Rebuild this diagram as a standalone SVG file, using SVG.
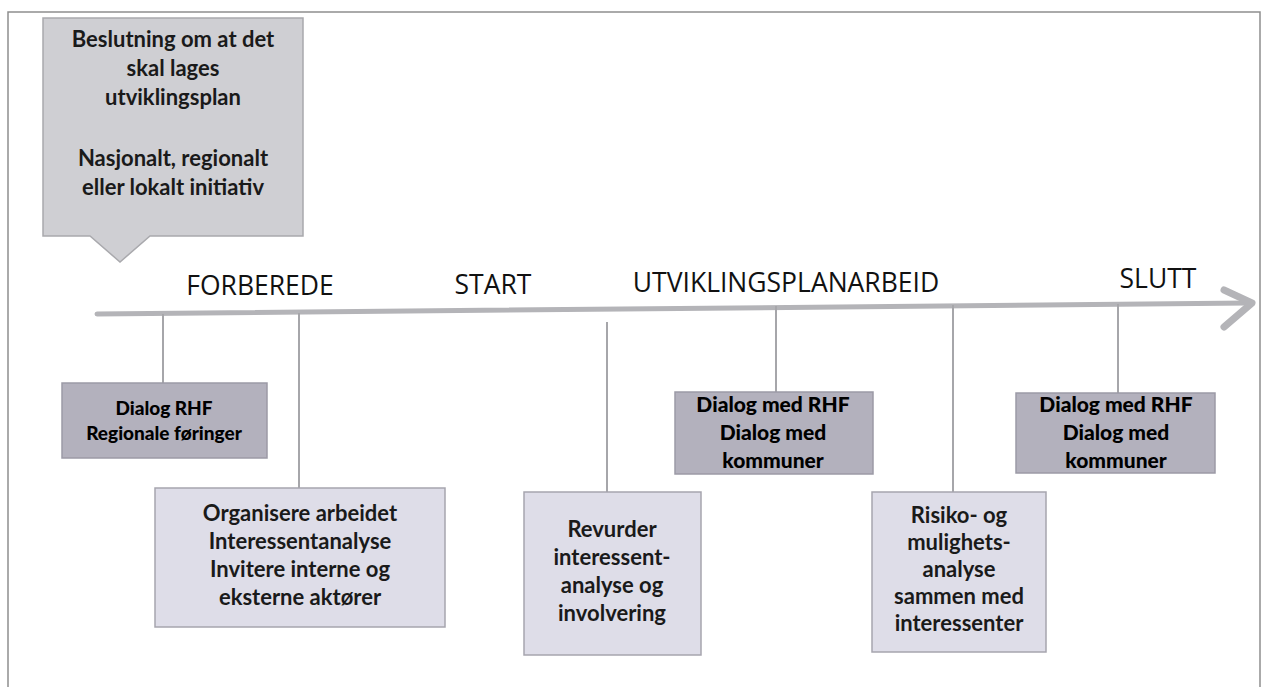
<svg xmlns="http://www.w3.org/2000/svg" width="1262" height="687" viewBox="0 0 1262 687">
<style>
.frame{fill:none;stroke:#8e8e8e;stroke-width:1.5}
.axis{fill:none;stroke:#b4b4b8;stroke-width:5;stroke-linecap:round}
.head{fill:none;stroke:#b4b4b8;stroke-width:7;stroke-linecap:round;stroke-linejoin:round}
.tick{fill:none;stroke:#a6a6aa;stroke-width:2}
.callout{fill:#cfcfd3;stroke:#a9a9ad;stroke-width:1.5}
.dark{fill:#b3b1bd;stroke:#9c9aa6;stroke-width:1.5}
.light{fill:#deddE8;stroke:#a6a5ae;stroke-width:1.5}
.phase{font-family:"Open Sans","Liberation Sans",sans-serif;font-size:26.5px;fill:#111;text-anchor:middle}
.t{font-family:Lato,"Liberation Sans",sans-serif;font-weight:bold;font-size:22px;fill:#1a1a1a;text-anchor:middle}
.td{font-family:Lato,"Liberation Sans",sans-serif;font-weight:900;font-size:21px;fill:#000;text-anchor:middle}
.ts{font-size:19px}
</style>
<rect x="0" y="0" width="1262" height="687" fill="#ffffff"/>
<g id="frame">
<path class="frame" d="M8,687 V12 H1260 V687"/>
</g>
<g id="connectors">
<path class="axis" d="M97,314 L1248,303"/>
<path class="head" d="M1224,290 L1252,303 L1224,327"/>
<path class="tick" d="M163,314 V383"/>
<path class="tick" d="M299,313 V488"/>
<path class="tick" d="M607,322 V492"/>
<path class="tick" d="M776,306 V392"/>
<path class="tick" d="M953,305 V492"/>
<path class="tick" d="M1118,304 V393"/>
</g>
<g id="phases">
<text class="phase" x="260" y="295">FORBEREDE</text>
<text class="phase" x="493" y="294">START</text>
<text class="phase" x="786" y="292">UTVIKLINGSPLANARBEID</text>
<text class="phase" x="1158" y="288">SLUTT</text>
</g>
<g id="callout">
<path class="callout" d="M43,18 H303 V236 H150 L120,262 L90,236 H43 Z"/>
<text class="t" x="173" y="47">Beslutning om at det</text>
<text class="t" x="173" y="76">skal lages</text>
<text class="t" x="173" y="105">utviklingsplan</text>
<text class="t" x="173" y="166">Nasjonalt, regionalt</text>
<text class="t" x="173" y="195">eller lokalt initiativ</text>
</g>
<g id="dialog-rhf">
<rect class="dark" x="62" y="383" width="205" height="75"/>
<text class="td ts" x="164" y="415">Dialog RHF</text>
<text class="td ts" x="164" y="440">Regionale føringer</text>
</g>
<g id="organisere">
<rect class="light" x="155" y="488" width="290" height="139"/>
<text class="t" x="300" y="521">Organisere arbeidet</text>
<text class="t" x="300" y="549">Interessentanalyse</text>
<text class="t" x="300" y="577">Invitere interne og</text>
<text class="t" x="300" y="605">eksterne aktører</text>
</g>
<g id="revurder">
<rect class="light" x="524" y="492" width="177" height="163"/>
<text class="t" x="612" y="537">Revurder</text>
<text class="t" x="612" y="565">interessent-</text>
<text class="t" x="612" y="593">analyse og</text>
<text class="t" x="612" y="621">involvering</text>
</g>
<g id="dialog-2">
<rect class="dark" x="675" y="392" width="198" height="82"/>
<text class="td" x="773" y="412">Dialog med RHF</text>
<text class="td" x="773" y="440">Dialog med</text>
<text class="td" x="773" y="468">kommuner</text>
</g>
<g id="risiko">
<rect class="light" x="872" y="492" width="174" height="160"/>
<text class="t" x="959" y="523">Risiko- og</text>
<text class="t" x="959" y="550">mulighets-</text>
<text class="t" x="959" y="577">analyse</text>
<text class="t" x="959" y="604">sammen med</text>
<text class="t" x="959" y="631">interessenter</text>
</g>
<g id="dialog-3">
<rect class="dark" x="1016" y="393" width="199" height="80"/>
<text class="td" x="1116" y="412">Dialog med RHF</text>
<text class="td" x="1116" y="440">Dialog med</text>
<text class="td" x="1116" y="468">kommuner</text>
</g>
</svg>
